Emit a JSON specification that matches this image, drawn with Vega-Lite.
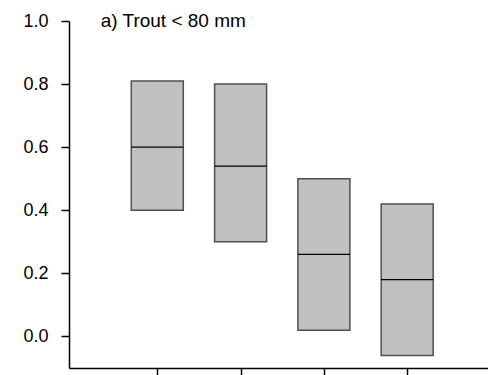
{
  "$schema": "https://vega.github.io/schema/vega-lite/v6.json",
  "autosize": {"type": "none"},
  "width": 419,
  "height": 347,
  "padding": {"left": 69, "top": 21, "right": 0, "bottom": 7},
  "background": "white",
  "data": {
    "values": [
      {"group": 1, "low": 0.40, "median": 0.60, "high": 0.81},
      {"group": 2, "low": 0.30, "median": 0.54, "high": 0.80},
      {"group": 3, "low": 0.02, "median": 0.26, "high": 0.50},
      {"group": 4, "low": -0.06, "median": 0.18, "high": 0.42}
    ]
  },
  "config": {
    "view": {"stroke": null},
    "axis": {
      "grid": false,
      "domainColor": "black",
      "domainWidth": 1.5,
      "tickColor": "black",
      "tickWidth": 1.5,
      "tickSize": 8,
      "labelFont": "Liberation Sans",
      "labelFontSize": 18,
      "labelColor": "black",
      "title": null
    }
  },
  "layer": [
    {
      "mark": {"type": "bar", "size": 52, "fill": "#c0c0c0", "stroke": "#505050", "strokeWidth": 1.5},
      "encoding": {
        "x": {"field": "group", "type": "quantitative", "scale": {"domain": [0, 4.91], "nice": false, "zero": false},
              "axis": {"values": [1, 2, 3, 4], "labels": false, "title": null}},
        "y": {"field": "low", "type": "quantitative", "scale": {"domain": [-0.1, 1.0], "nice": false, "zero": false},
              "axis": {"values": [0, 0.2, 0.4, 0.6, 0.8, 1.0], "format": ".1f", "labelPadding": 13, "title": null}},
        "y2": {"field": "high"}
      }
    },
    {
      "mark": {"type": "tick", "orient": "horizontal", "size": 52, "thickness": 1.2, "color": "black", "opacity": 1},
      "encoding": {
        "x": {"field": "group", "type": "quantitative"},
        "y": {"field": "median", "type": "quantitative"}
      }
    },
    {
      "data": {"values": [{"label": "a) Trout < 80 mm", "x": 0.32, "y": 1.0}]},
      "mark": {"type": "text", "align": "left", "baseline": "alphabetic", "dy": 6, "font": "Liberation Sans", "fontSize": 19, "color": "black"},
      "encoding": {
        "x": {"field": "x", "type": "quantitative"},
        "y": {"field": "y", "type": "quantitative"},
        "text": {"field": "label"}
      }
    }
  ]
}
